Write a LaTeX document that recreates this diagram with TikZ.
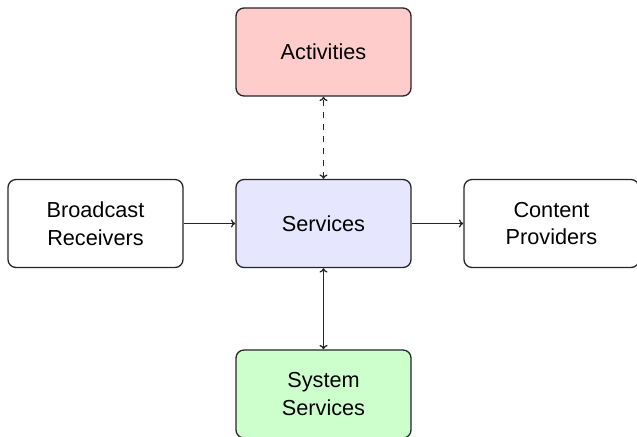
\documentclass[tikz,border=0pt]{standalone}
\usepackage{fontspec}
\setmainfont{Liberation Sans}
\usetikzlibrary{arrows.meta}
\definecolor{actfill}{HTML}{FFCCCC}
\definecolor{srvfill}{HTML}{E6E6FF}
\definecolor{sysfill}{HTML}{CCFFCC}
\begin{document}
\begin{tikzpicture}[x=0.5pt,y=-0.5pt,
  box/.style={draw=black!85, line width=0.65pt, rounded corners=4pt,
    minimum width=87.5pt, minimum height=44pt, inner sep=0pt,
    align=center, font=\fontsize{10.85}{13.8}\selectfont},
  link/.style={line width=0.65pt, draw=black!85, -{To[length=2.2pt,width=4pt]}},
  biglink/.style={line width=0.65pt, draw=black!85, {To[length=2.2pt,width=4pt]}-{To[length=2.2pt,width=4pt]}}]
  \useasboundingbox (0,0) rectangle (637,436);
  \node[box, fill=actfill] (act) at (323.5,52) {Activities};
  \node[box, fill=srvfill] (srv) at (323.5,223.5) {Services};
  \node[box, fill=white] (bcr) at (95.5,223.5) {Broadcast\\Receivers};
  \node[box, fill=white] (cp) at (551.5,223.5) {Content\\Providers};
  \node[box, fill=sysfill] (sys) at (323.5,394) {System\\Services};
  \draw[biglink, dash pattern=on 3pt off 3pt] (srv) -- (act);
  \draw[biglink] (srv) -- (sys);
  \draw[link] (bcr) -- (srv);
  \draw[link] (srv) -- (cp);
\end{tikzpicture}
\end{document}
